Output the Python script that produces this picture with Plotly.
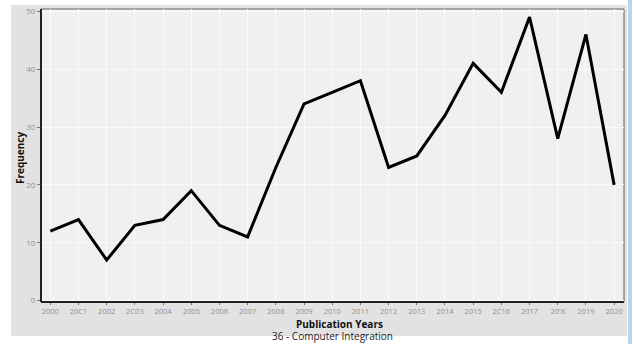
import plotly.graph_objects as go

years = list(range(2000, 2021))
frequency = [12, 14, 7, 13, 14, 19, 13, 11, 23, 34, 36, 38, 23, 25, 32, 41, 36, 49, 28, 46, 20]
tick_labels = ["2000", "20C1", "2002", "2C03", "2004", "2005", "2006", "2007", "2008", "2009",
               "2010", "2011", "2012", "2013", "2014", "2015", "2C16", "2017", "20'8", "2019", "2020"]
y_ticks = [0, 10, 20, 30, 40, 50]
x_title = "Publication Years"
subtitle = "36 - Computer Integration"

W, H = 634, 344
L, R, T, B = 41, 10, 9, 42
pw, ph = W - L - R, H - T - B

def px(x):
    return (x - L) / pw

def py(y):
    return (H - B - y) / ph

fig = go.Figure()
fig.add_trace(go.Scatter(x=years, y=frequency, mode="lines",
                         line=dict(color="black", width=3), hoverinfo="skip"))

shapes = [
    dict(type="rect", xref="paper", yref="paper", x0=px(11), x1=px(627), y0=py(336), y1=py(5),
         fillcolor="#e2e2e2", line=dict(width=0), layer="below"),
    dict(type="rect", xref="paper", yref="paper", x0=px(628), x1=px(632), y0=py(344), y1=py(0),
         fillcolor="#bcd4ea", line=dict(width=0), layer="below"),
    dict(type="rect", xref="paper", yref="paper", x0=0, x1=1, y0=0, y1=1,
         fillcolor="#f0f0f0", line=dict(color="#606060", width=1), layer="below"),
    dict(type="line", xref="paper", yref="paper", x0=0, x1=0, y0=0, y1=1,
         line=dict(color="#202020", width=2)),
    dict(type="line", xref="paper", yref="paper", x0=0, x1=1, y0=0, y1=0,
         line=dict(color="#202020", width=2)),
]

fig.update_layout(
    width=W, height=H,
    margin=dict(l=L, r=R, t=T, b=B, autoexpand=False),
    paper_bgcolor="white",
    plot_bgcolor="rgba(0,0,0,0)",
    showlegend=False,
    shapes=shapes,
    font=dict(family="Open Sans", color="#888888"),
    xaxis=dict(range=[1999.67, 2020.35], tickmode="array", tickvals=years, ticktext=tick_labels,
               showgrid=True, gridcolor="#fafafa", gridwidth=1, zeroline=False,
               ticks="outside", ticklen=2, tickcolor="#777777", automargin=False,
               tickfont=dict(size=7.5, color="#909090", family="Open Sans")),
    yaxis=dict(range=[-0.25, 50.4], tickmode="array", tickvals=y_ticks,
               showgrid=True, gridcolor="#fafafa", gridwidth=1, zeroline=False,
               ticks="outside", ticklen=3, tickcolor="#777777", automargin=False,
               tickfont=dict(size=8, color="#909090", family="Open Sans")),
    annotations=[
        dict(text="<b>" + x_title + "</b>", xref="paper", yref="paper", x=px(340), y=py(323.5),
             xanchor="center", yanchor="middle",
             showarrow=False, font=dict(size=10, color="#111111", family="Open Sans")),
        dict(text=subtitle, xref="paper", yref="paper", x=px(332), y=py(335.5),
             xanchor="center", yanchor="middle",
             showarrow=False, font=dict(size=10, color="#222222", family="Open Sans")),
        dict(text="<b>Frequency</b>", xref="paper", yref="paper", x=px(20), y=py(158),
             xanchor="center", yanchor="middle",
             textangle=-90, showarrow=False, font=dict(size=10, color="#111111", family="Open Sans")),
    ],
)

fig.write_html("out.html", config={"displayModeBar": False},
               post_script="document.body.style.margin='0';document.body.style.overflow='hidden';")
